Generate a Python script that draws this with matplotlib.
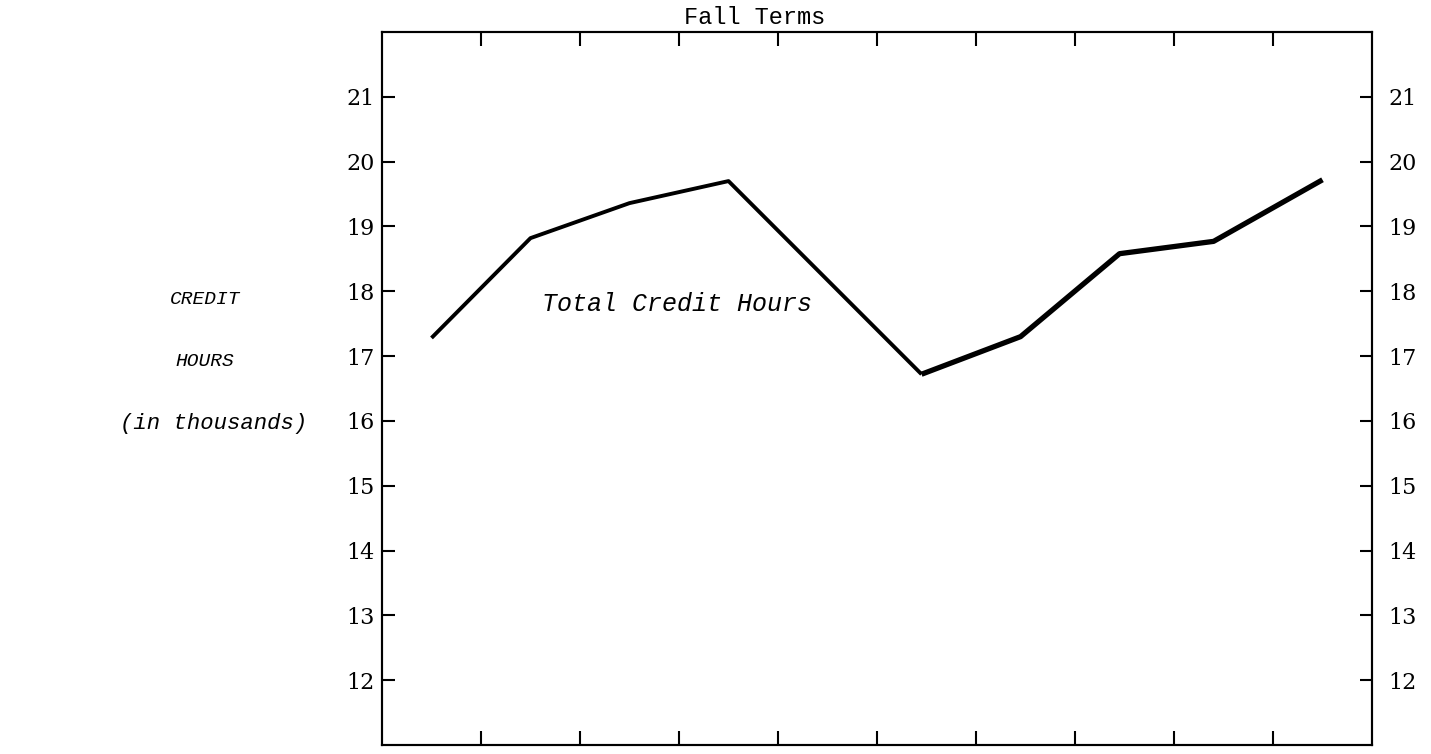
import matplotlib
matplotlib.use("Agg")
import matplotlib.pyplot as plt

# Fall terms (positions along the unlabeled x axis) and total credit hours (thousands)
terms = [0.5, 1.5, 2.5, 3.5, 5.45, 6.45, 7.45, 8.4, 9.5]
credit_hours = [17.28, 18.82, 19.36, 19.7, 16.72, 17.3, 18.58, 18.77, 19.72]
y_ticks = [12, 13, 14, 15, 16, 17, 18, 19, 20, 21]
x_ticks = [1, 2, 3, 4, 5, 6, 7, 8, 9]

W, H = 1431, 754
fig = plt.figure(figsize=(W / 100, H / 100), dpi=100)
ax = fig.add_axes([382 / W, 9 / H, 990 / W, 713 / H])

# thinner early segment, heavier later segment like the hand-drawn original
ax.plot(terms[:5], credit_hours[:5], color="black", lw=2.8, solid_capstyle="butt")
ax.plot(terms[4:], credit_hours[4:], color="black", lw=3.8, solid_capstyle="butt")

ax.set_xlim(0, 10)
ax.set_ylim(11, 22)
ax.set_xticks(x_ticks)
ax.set_yticks(y_ticks)
ax.set_xticklabels([])
ax.set_yticklabels([str(v) for v in y_ticks], fontfamily="DejaVu Serif", fontsize=16)
ax.tick_params(axis="x", direction="in", top=True, bottom=True, length=10, width=1.5)
ax.tick_params(axis="y", direction="in", left=True, right=False, length=9, width=1.5, pad=5)
for s in ax.spines.values():
    s.set_linewidth(1.5)

# right side labels
ax2 = ax.twinx()
ax2.set_ylim(11, 22)
ax2.set_yticks(y_ticks)
ax2.set_yticklabels([str(v) for v in y_ticks], fontfamily="DejaVu Serif", fontsize=16)
ax2.tick_params(axis="y", direction="in", length=9, width=1.5, pad=12)
for s in ax2.spines.values():
    s.set_linewidth(1.5)

mono = "Liberation Mono"
fig.text(755 / W, 1 - 17 / H, "Fall Terms", fontfamily=mono, fontsize=17,
         ha="center", va="center")
ax.text(2.98, 17.8, "Total Credit Hours", fontfamily=mono, fontstyle="italic",
        fontsize=18, ha="center", va="center")

fig.text(205 / W, 1 - 300 / H, "CREDIT", fontfamily=mono, fontstyle="italic",
         fontsize=14, ha="center", va="center")
fig.text(205 / W, 1 - 362 / H, "HOURS", fontfamily=mono, fontstyle="italic",
         fontsize=14, ha="center", va="center")
fig.text(214 / W, 1 - 424 / H, "(in thousands)", fontfamily=mono, fontstyle="italic",
         fontsize=16, ha="center", va="center")

fig.savefig("out.png", dpi=100)
